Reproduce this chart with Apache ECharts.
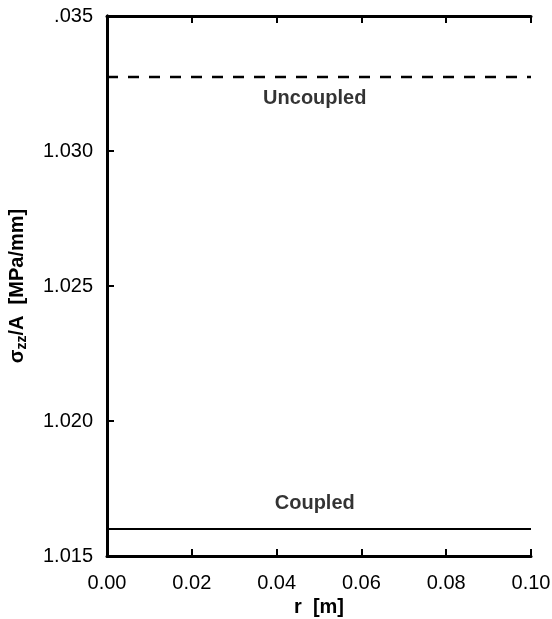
<!DOCTYPE html>
<html><head><meta charset="utf-8">
<script src="https://cdn.jsdelivr.net/npm/echarts@6/dist/echarts.min.js"></script>
<style>html,body{margin:0;padding:0;background:#fff}#c{width:552px;height:619px}</style>
</head><body><div id="c"></div>
<script>
const rValues = [0.0, 0.1];
const uncoupled = [1.03274, 1.03274];
const coupled = [1.0160, 1.0160];
const labelNames = ['Uncoupled', 'Coupled'];
const labelPos = [[0.049, 1.03196], [0.049, 1.01696]];
const xTicks = [0.00, 0.02, 0.04, 0.06, 0.08, 0.10];
const yTicks = [1.015, 1.020, 1.025, 1.030, 1.035];

const font = '"Liberation Sans", Arial, sans-serif';
const chart = echarts.init(document.getElementById('c'));
chart.setOption({
  animation: false,
  grid: {left: 107, right: 21, top: 16, bottom: 63, containLabel: false, outerBoundsMode: 'none'},
  xAxis: [{
    type: 'value', min: 0, max: 0.1, interval: 0.02,
    name: 'r  [m]', nameLocation: 'middle', nameGap: 37,
    nameTextStyle: {fontFamily: font, fontSize: 20, fontWeight: 'bold', color: '#000'},
    axisLine: {lineStyle: {color: '#000', width: 3}},
    axisTick: {inside: true, length: 7, lineStyle: {width: 2, color: '#000'}},
    axisLabel: {fontFamily: font, fontSize: 20, color: '#000', margin: 17, formatter: v => v.toFixed(2)},
    splitLine: {show: false}
  }, {
    type: 'value', position: 'top', min: 0, max: 0.1, interval: 0.02,
    axisLine: {lineStyle: {color: '#000', width: 3}},
    axisTick: {inside: true, length: 7, lineStyle: {width: 2, color: '#000'}},
    axisLabel: {show: false}, splitLine: {show: false}
  }],
  yAxis: [{
    type: 'value', min: 1.015, max: 1.035, interval: 0.005,
    name: '{s|σ}{sub|zz}{s|/A  [MPa/mm]}', nameLocation: 'middle', nameGap: 78,
    nameTextStyle: {rich: {
      s: {fontFamily: font, fontSize: 20, fontWeight: 'bold', color: '#000'},
      sub: {fontFamily: font, fontSize: 14, fontWeight: 'bold', color: '#000', verticalAlign: 'bottom', padding: [10, 0, 0, 0]}
    }},
    axisLine: {lineStyle: {color: '#000', width: 3}},
    axisTick: {inside: true, length: 7, lineStyle: {width: 2, color: '#000'}},
    axisLabel: {fontFamily: font, fontSize: 20, color: '#000', margin: 14,
      formatter: v => Math.abs(v - 1.035) < 1e-9 ? '.035' : v.toFixed(3)},
    splitLine: {show: false}
  }, {
    type: 'value', position: 'right', min: 1.015, max: 1.035, interval: 0.005,
    axisLine: {show: true, lineStyle: {color: '#000', width: 3}},
    axisTick: {show: false}, axisLabel: {show: false}, splitLine: {show: false}
  }],
  series: [{
    type: 'line', data: rValues.map((x, i) => [x, uncoupled[i]]), symbol: 'none',
    lineStyle: {color: '#000', width: 2.5, type: [11, 10]}
  }, {
    type: 'line', data: rValues.map((x, i) => [x, coupled[i]]), symbol: 'none',
    lineStyle: {color: '#000', width: 2}
  }, {
    type: 'scatter', symbolSize: 0,
    data: labelPos.map((p, i) => ({value: p, name: labelNames[i]})),
    label: {show: true, position: 'inside', formatter: p => p.name,
      fontFamily: font, fontSize: 20, fontWeight: 'bold', color: '#000'}
  }]
});
</script></body></html>
